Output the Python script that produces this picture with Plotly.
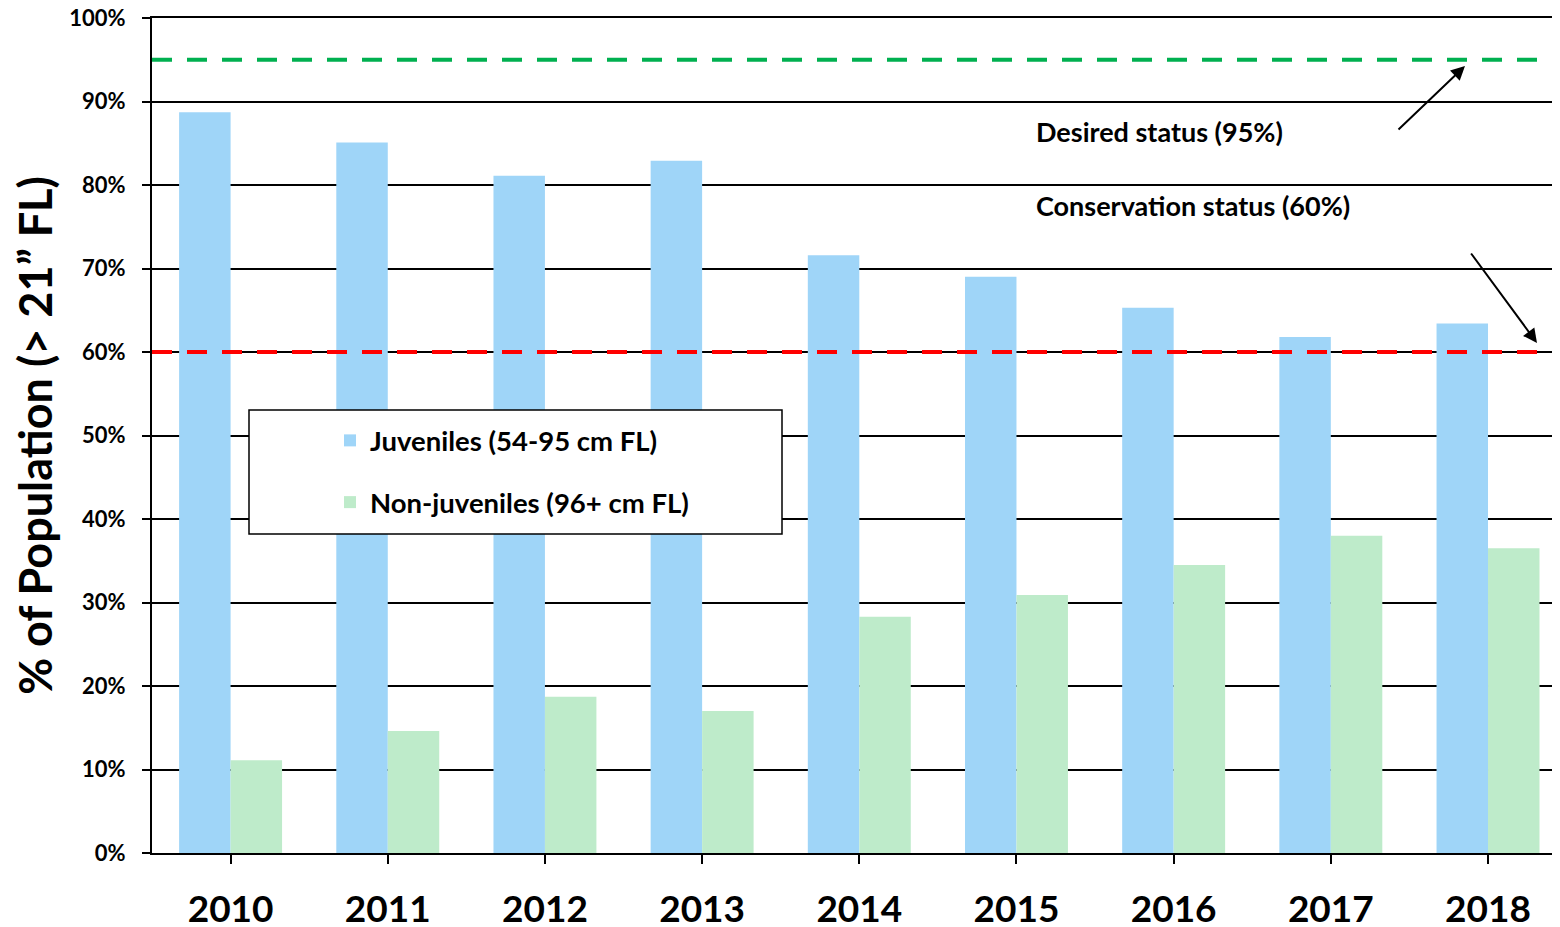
import plotly.graph_objects as go

years = ["2010", "2011", "2012", "2013", "2014", "2015", "2016", "2017", "2018"]
juveniles = [88.7, 85.1, 81.1, 82.9, 71.6, 69.0, 65.3, 61.8, 63.4]
non_juveniles = [11.1, 14.6, 18.7, 17.0, 28.3, 30.9, 34.5, 38.0, 36.5]
y_ticks = [0, 10, 20, 30, 40, 50, 60, 70, 80, 90, 100]
desired_status = 95
conservation_status = 60

FONT = "Lato"
OFF = 8  # browser body margin
W, H = 1560 - OFF, 927 - OFF
# plot area in reference pixels: x 152..1560, y 18..853
PX0, PX1, PY0, PY1 = 152, 1560, 18, 853
L, R, T, B = PX0 - OFF, 0, PY0 - OFF, 927 - PY1

def px_x(p):
    return (p - PX0) / (PX1 - PX0)

def px_y(p):
    return (PY1 - p) / (PY1 - PY0)

fig = go.Figure()
fig.add_trace(go.Bar(x=years, y=juveniles, name="Juveniles (54-95 cm FL)",
                     marker=dict(color="#9fd5f8", line=dict(width=0)),
                     legendgroup="a"))
fig.add_trace(go.Bar(x=years, y=non_juveniles, name="Non-juveniles (96+ cm FL)",
                     marker=dict(color="#beebca", line=dict(width=0)),
                     legendgroup="b"))

# reference lines
fig.add_shape(type="line", xref="paper", yref="y", x0=0, x1=px_x(1545),
              y0=desired_status, y1=desired_status,
              line=dict(color="#00b050", width=4, dash="20px,15px"), layer="above")
fig.add_shape(type="line", xref="paper", yref="y", x0=0, x1=px_x(1545),
              y0=conservation_status, y1=conservation_status,
              line=dict(color="#ff0000", width=4, dash="20px,15px"), layer="above")

# legend box
fig.add_shape(type="rect", xref="paper", yref="paper",
              x0=px_x(249), x1=px_x(782), y0=px_y(534), y1=px_y(410),
              fillcolor="white", line=dict(color="black", width=1.5), layer="above")

fig.add_annotation(xref="paper", yref="paper", x=px_x(1034), y=px_y(131),
                   text="Desired status (95%)", showarrow=False,
                   xanchor="left", yanchor="middle",
                   font=dict(family=FONT, size=27, color="black", weight="bold"))
fig.add_annotation(xref="paper", yref="paper", x=px_x(1034), y=px_y(206),
                   text="Conservation status (60%)", showarrow=False,
                   xanchor="left", yanchor="middle",
                   font=dict(family=FONT, size=27, color="black", weight="bold"))
fig.add_annotation(xref="paper", yref="paper", x=px_x(1465), y=px_y(66), text="",
                   showarrow=True, ax=-68, ay=65, axref="pixel", ayref="pixel",
                   arrowhead=2, arrowsize=1.4, arrowwidth=2, arrowcolor="black")
fig.add_annotation(xref="paper", yref="paper", x=px_x(1537), y=px_y(343), text="",
                   showarrow=True, ax=-67, ay=-91, axref="pixel", ayref="pixel",
                   arrowhead=2, arrowsize=1.4, arrowwidth=2, arrowcolor="black")

fig.update_layout(
    width=W, height=H,
    margin=dict(l=L, r=R, t=T, b=B, autoexpand=False),
    paper_bgcolor="white", plot_bgcolor="white",
    barmode="group", bargap=0.345, bargroupgap=0,
    font=dict(family=FONT, color="black"),
    legend=dict(x=px_x(330), y=px_y(416), xanchor="left", yanchor="top",
                bgcolor="rgba(0,0,0,0)", borderwidth=0,
                traceorder="grouped", tracegroupgap=23,
                font=dict(family=FONT, size=27.5, color="black", weight="bold")),
    showlegend=True,
)
fig.update_xaxes(range=[-0.5, 8.458], showline=True, linecolor="black", linewidth=2,
                 mirror=True,
                 ticks="outside", ticklen=9, tickwidth=2, tickcolor="black",
                 tickfont=dict(family=FONT, size=37, color="black", weight="bold"),
                 ticklabelstandoff=14, showgrid=False, automargin=False)
fig.update_yaxes(range=[0, 100], tickmode="array", tickvals=y_ticks,
                 ticktext=[f"{v}%" for v in y_ticks], showline=True,
                 linecolor="black", linewidth=2, ticks="outside", ticklen=8,
                 tickwidth=2, tickcolor="black", ticklabeloverflow="allow",
                 showgrid=True, gridcolor="black", gridwidth=1.5, zeroline=False,
                 tickfont=dict(family=FONT, size=22, color="black", weight="bold"),
                 ticklabelstandoff=12, automargin=False,
                 title=dict(text="% of Population (> 21\u201d FL)", standoff=17,
                            font=dict(family=FONT, size=45, color="black", weight="bold")))

fig.write_html("out.html")
